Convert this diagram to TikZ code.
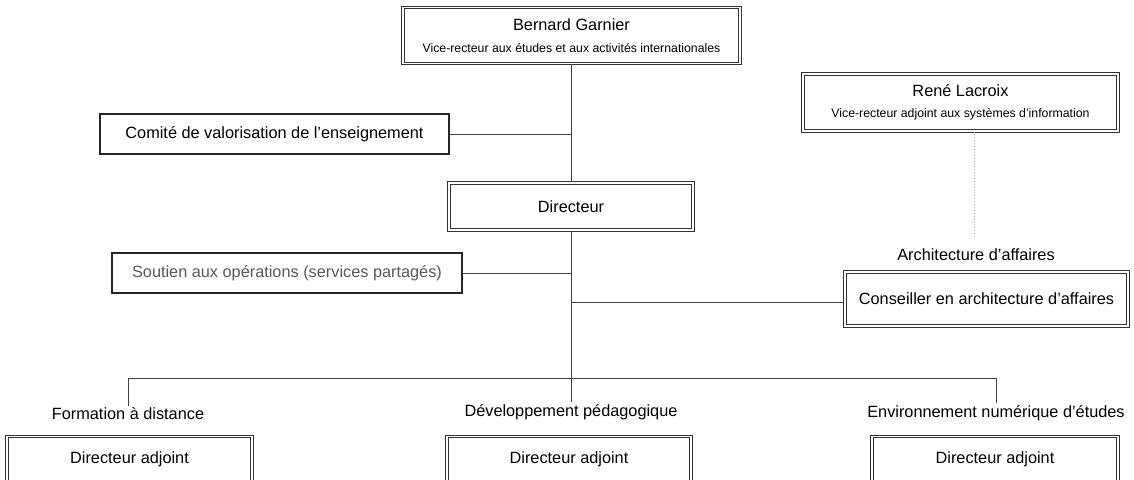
\documentclass[tikz,border=0pt]{standalone}
\usepackage{fontspec}
\setmainfont{Liberation Sans}
\usetikzlibrary{calc}

\begin{document}
\begin{tikzpicture}[
    x=1pt, y=-1pt,
    link/.style={draw=black!75, line width=0.9pt},
    dotted link/.style={draw=black!35, line width=0.9pt, dotted},
    single box/.style={draw=black!85, line width=1.1pt, fill=white,
        inner sep=0pt, font=\fontsize{16.3}{19}\selectfont},
    double box/.style={draw=black!80, double, double distance=1.6pt,
        line width=1.1pt, fill=white, inner sep=0pt,
        font=\fontsize{16.3}{19}\selectfont},
    unit label/.style={font=\fontsize{16.3}{19}\selectfont, inner sep=1pt},
    small/.style={font=\fontsize{12.3}{14}\selectfont}
    ]
    \clip (0,0) rectangle (1134,479);
    \useasboundingbox (0,0) rectangle (1134,479);
    % Boxes
    \node[double box, minimum width=337, minimum height=56, align=center]
        (vr) at (571.5,35.5) {Bernard Garnier\\[3pt]
        {\fontsize{12.3}{14}\selectfont Vice-recteur aux études et aux activités internationales}};
    \node[single box, minimum width=349, minimum height=40]
        (comite) at (274.5,134) {Comité de valorisation de l’enseignement};
    \node[double box, minimum width=244, minimum height=47]
        (dir) at (571,206.5) {Directeur};
    \node[single box, minimum width=350, minimum height=40, text=black!65]
        (soutien) at (287,273) {Soutien aux opérations (services partagés)};
    \node[double box, minimum width=315, minimum height=57, align=center]
        (vra) at (960.5,102.5) {René Lacroix\\[2pt]
        {\fontsize{12.3}{14}\selectfont Vice-recteur adjoint aux systèmes d'information}};
    \node[unit label] (archi) at (976,255) {Architecture d’affaires};
    \node[double box, minimum width=283, minimum height=54]
        (conseiller) at (986.5,299) {Conseiller en architecture d’affaires};
    % Units at the bottom
    \node[unit label] (fad) at (128,414) {Formation à distance};
    \node[unit label] (dp) at (571,412) {Développement pédagogique};
    \node[unit label] (ene) at (996,413) {Environnement numérique d’études};
    \node[double box, minimum width=245, minimum height=62, anchor=north]
        (da1) at (129.5,436) {};
    \node[double box, minimum width=244, minimum height=62, anchor=north]
        (da2) at (569,436) {};
    \node[double box, minimum width=246, minimum height=62, anchor=north]
        (da3) at (995,436) {};
    \node[unit label] at (129.5,459) {Directeur adjoint};
    \node[unit label] at (569,459) {Directeur adjoint};
    \node[unit label] at (995,459) {Directeur adjoint};
    % Lines
    \coordinate (bus) at (571,378);
    \coordinate (dots) at (974,236);
    \draw[link] (vr.south -| bus) -- (dir.north -| bus);
    \draw[link] (comite.east) -- (comite.east -| bus);
    \draw[link] (dir.south -| bus) -- (bus);
    \draw[link] (soutien.east) -- (soutien.east -| bus);
    \draw[link] ($(conseiller.west)+(0,3)$) -- ($(conseiller.west -| bus)+(0,3)$);
    \draw[link] (fad.north |- bus) -- (ene.north |- bus);
    \draw[link] (fad.north |- bus) -- ($(fad.north)+(0,-1)$);
    \draw[link] (bus) -- ($(dp.north -| bus)+(0,-1)$);
    \draw[link] (ene.north |- bus) -- ($(ene.north)+(0,-1)$);
    \draw[dotted link] (vra.south -| dots) -- (dots);
\end{tikzpicture}
\end{document}
